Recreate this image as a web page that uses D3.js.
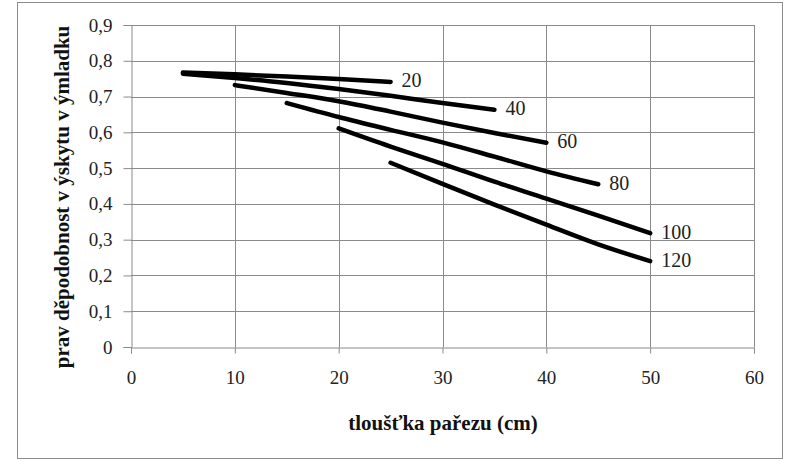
<!DOCTYPE html>
<html><head><meta charset="utf-8">
<script src="https://cdn.jsdelivr.net/npm/d3@7"></script>
<style>
body{margin:0;background:#fff;}
svg{display:block;}
svg text{font-family:"Liberation Serif","Times New Roman",serif;}
</style></head>
<body>
<svg id="chart" width="789" height="461"></svg>
<script>
const seriesNames = ["20","40","60","80","100","120"];
const xs20 = [5,10,15,20,25];
const ys20 = [0.767,0.762,0.756,0.749,0.741];
const xs40 = [5,10,15,20,25,30,35];
const ys40 = [0.764,0.752,0.738,0.721,0.702,0.682,0.663];
const xs60 = [10,15,20,25,30,35,40];
const ys60 = [0.732,0.710,0.687,0.658,0.627,0.598,0.571];
const xs80 = [15,20,25,30,35,40,45];
const ys80 = [0.682,0.643,0.607,0.572,0.532,0.491,0.455];
const xs100 = [20,25,30,35,40,45,50];
const ys100 = [0.611,0.560,0.512,0.462,0.415,0.367,0.318];
const xs120 = [25,30,35,40,45,50];
const ys120 = [0.515,0.456,0.398,0.342,0.287,0.240];
const xTicks = [0,10,20,30,40,50,60];
const yTicks = [0,0.1,0.2,0.3,0.4,0.5,0.6,0.7,0.8,0.9];
const xTitle = "tloušťka pařezu (cm)";
const yTitle = "prav děpodobnost v ýskytu v ýmladku";

const series = [
  {name:seriesNames[0], xs:xs20, ys:ys20},
  {name:seriesNames[1], xs:xs40, ys:ys40},
  {name:seriesNames[2], xs:xs60, ys:ys60},
  {name:seriesNames[3], xs:xs80, ys:ys80},
  {name:seriesNames[4], xs:xs100, ys:ys100},
  {name:seriesNames[5], xs:xs120, ys:ys120}
];

const svg = d3.select("#chart");
const L = 131, R = 754, T = 25, B = 347;
const SERIF = "'Liberation Serif','Times New Roman',serif";
const x = d3.scaleLinear().domain([0,60]).range([L,R]);
const y = d3.scaleLinear().domain([0,0.9]).range([B,T]);
const fmt = d => d3.format(".1f")(d).replace(".", ",").replace(/^0,0$/,"0");

// outer border
svg.append("rect").attr("x",17.5).attr("y",2.5).attr("width",765).attr("height",456)
  .attr("fill","#fff").attr("stroke","#8c8c8c").attr("stroke-width",1);

// gridlines
svg.append("g").selectAll("line").data(yTicks.slice(1)).join("line")
  .attr("x1",L).attr("x2",R).attr("y1",d=>Math.round(y(d))+0.5).attr("y2",d=>Math.round(y(d))+0.5)
  .attr("stroke","#8a8a8a").attr("stroke-width",1);
svg.append("g").selectAll("line").data(xTicks.slice(1)).join("line")
  .attr("y1",T).attr("y2",B).attr("x1",d=>Math.round(x(d))+0.5).attr("x2",d=>Math.round(x(d))+0.5)
  .attr("stroke","#8a8a8a").attr("stroke-width",1);

// axes
const xAxis = d3.axisBottom(x).tickValues(xTicks).tickSize(6).tickPadding(17).tickFormat(d=>String(d));
const yAxis = d3.axisLeft(y).tickValues(yTicks).tickSize(8).tickPadding(11).tickFormat(fmt);
const gx = svg.append("g").attr("transform",`translate(0,${Math.round(B)+0.5})`).call(xAxis);
const gy = svg.append("g").attr("transform",`translate(${Math.round(L)+0.5},0)`).call(yAxis);
[gx,gy].forEach(g=>{
  g.attr("font-family",SERIF).attr("font-size",19);
  g.select(".domain").attr("stroke","#8a8a8a");
  g.selectAll(".tick line").attr("stroke","#8a8a8a");
  g.selectAll(".tick text").style("font-family",SERIF).style("font-size","19px").attr("fill","#222");
});

// lines
const line = d3.line().x(d=>x(d[0])).y(d=>y(d[1])).curve(d3.curveMonotoneX);
series.forEach(s=>{
  const pts = s.xs.map((v,i)=>[v,s.ys[i]]);
  svg.append("path").datum(pts).attr("d",line).attr("fill","none")
    .attr("stroke","#000").attr("stroke-width",4.5).attr("stroke-linecap","round");
  const last = pts[pts.length-1];
  svg.append("text").attr("x",x(last[0])+11).attr("y",y(last[1])+1)
    .attr("dominant-baseline","middle")
    .style("font-family",SERIF).style("font-size","20px").attr("fill","#222").text(s.name);
});

// titles
svg.append("text").attr("x",443).attr("y",430).attr("text-anchor","middle")
  .style("font-family",SERIF).style("font-weight","bold")
  .style("font-size","21px").attr("fill","#111").text(xTitle);
svg.append("text").attr("transform","translate(69,197) rotate(-90)").attr("text-anchor","middle")
  .style("font-family",SERIF).style("font-weight","bold")
  .style("font-size","21px").attr("fill","#111").text(yTitle);
</script>
</body></html>
